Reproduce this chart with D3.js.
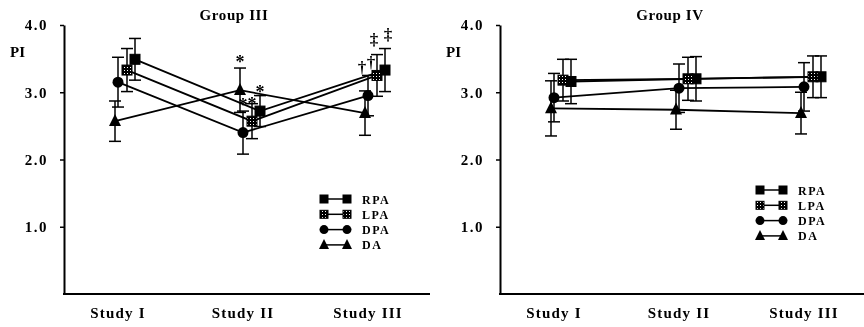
<!DOCTYPE html>
<html>
<head>
<meta charset="utf-8">
<script src="https://cdn.jsdelivr.net/npm/d3@7"></script>
<style>
  body { margin: 0; background: #fff; }
  svg { will-change: transform; }
  text { font-family: "Liberation Serif", "Times New Roman", serif; font-weight: bold; fill: #000; }
</style>
</head>
<body>
<div id="chart"></div>
<script>
const studies = ['Study I', 'Study II', 'Study III'];
const seriesNames = ['RPA', 'LPA', 'DPA', 'DA'];
const yTicks = [1.0, 2.0, 3.0, 4.0];

// Group III means and error bars
const g3RPA = [3.49, 2.72, 3.33];
const g3LPA = [3.33, 2.57, 3.25];
const g3DPA = [3.15, 2.40, 2.95];
const g3DA  = [2.57, 3.03, 2.69];
const g3RPAsd = [0.31, 0.23, 0.32];
const g3LPAsd = [0.32, 0.26, 0.31];
const g3DPAsd = [0.37, 0.32, 0.30];
const g3DAsd  = [0.30, 0.33, 0.33];

// Group IV means and error bars
const g4RPA = [3.16, 3.20, 3.23];
const g4LPA = [3.18, 3.20, 3.23];
const g4DPA = [2.92, 3.06, 3.08];
const g4DA  = [2.76, 2.74, 2.69];
const g4RPAsd = [0.33, 0.33, 0.31];
const g4LPAsd = [0.31, 0.32, 0.31];
const g4DPAsd = [0.36, 0.36, 0.36];
const g4DAsd  = [0.41, 0.29, 0.31];

// significance marks (group III): next to a series at a study, at a PI level
const g3Marks = [
    { series: 'DA',  study: 1, level: 3.50, label: '*' },
    { series: 'DPA', study: 1, level: 2.85, label: '*' },
    { series: 'LPA', study: 1, level: 2.87, label: '*' },
    { series: 'RPA', study: 1, level: 3.05, label: '*' },
    { series: 'DA',  study: 2, level: 3.28, label: '†' },
    { series: 'DPA', study: 2, level: 3.36, label: '†' },
    { series: 'LPA', study: 2, level: 3.71, label: '‡' },
    { series: 'RPA', study: 2, level: 3.77, label: '‡' }
];

const width = 864, height = 327;
const svg = d3.select('#chart').append('svg')
    .attr('width', width)
    .attr('height', height);

const defs = svg.append('defs');
const pat = defs.append('pattern')
    .attr('id', 'dots')
    .attr('width', 3).attr('height', 3)
    .attr('patternUnits', 'userSpaceOnUse');
pat.append('rect').attr('width', 3).attr('height', 3).attr('fill', '#000');
pat.append('rect').attr('x', 1).attr('y', 1).attr('width', 1).attr('height', 1).attr('fill', '#fff');

const offsets = { RPA: 17, LPA: 9, DPA: 0, DA: -3 };

function drawSymbol(sel, name, x, y, size) {
    if (name === 'RPA' || name === 'LPA') {
        sel.append('rect')
            .attr('x', x - size / 2).attr('y', y - size / 2)
            .attr('width', size).attr('height', size)
            .attr('fill', name === 'RPA' ? '#000' : 'url(#dots)')
            .attr('stroke', '#000').attr('stroke-width', 1);
    } else if (name === 'DPA') {
        sel.append('circle').attr('cx', x).attr('cy', y).attr('r', size / 2 + 0.5).attr('fill', '#000');
    } else {
        const s = size + 2;
        sel.append('path')
            .attr('d', `M${x},${y - s * 0.6}L${x + s / 2},${y + s * 0.4}L${x - s / 2},${y + s * 0.4}Z`)
            .attr('fill', '#000');
    }
}

function drawPanel(x0, title, series, legendTop, marks) {
    const g = svg.append('g');
    const y = d3.scaleLinear().domain([0, 4]).range([294, 25]);
    const x = d3.scalePoint().domain(studies).range([x0 + 54, x0 + 304]);

    // y axis
    const yAxis = g.append('g')
        .attr('transform', `translate(${x0},0)`)
        .call(d3.axisLeft(y).tickValues(yTicks).tickFormat(d3.format('.1f')).tickSize(4).tickSizeOuter(0));
    yAxis.select('.domain').attr('stroke-width', 2);
    yAxis.selectAll('.tick line').attr('stroke-width', 1.5);
    yAxis.selectAll('.tick text')
        .attr('x', -16)
        .style('font-size', '15px')
        .style('letter-spacing', '1.5px')
        .style('font-family', '"Liberation Serif", serif');

    // x axis
    g.append('line')
        .attr('x1', x0 - 1).attr('x2', x0 + 366)
        .attr('y1', y(0)).attr('y2', y(0))
        .attr('stroke', '#000').attr('stroke-width', 2);
    studies.forEach(s => {
        g.append('text')
            .attr('x', x(s)).attr('y', 318)
            .attr('text-anchor', 'middle')
            .style('font-size', '15px')
            .style('letter-spacing', '1.2px')
            .text(s);
    });

    g.append('text')
        .attr('x', x0 + 170).attr('y', 20)
        .attr('text-anchor', 'middle')
        .style('font-size', '15px')
        .style('letter-spacing', '0.6px')
        .text(title);
    g.append('text')
        .attr('x', x0 - 54).attr('y', 57)
        .style('font-size', '15px')
        .text('PI');

    const px = (name, i) => x(studies[i]) + offsets[name];

    // connecting lines
    const line = d3.line();
    series.forEach(s => {
        g.append('path')
            .attr('d', line(s.values.map((v, i) => [px(s.name, i), y(v)])))
            .attr('fill', 'none').attr('stroke', '#000').attr('stroke-width', 1.8);
    });

    // error bars
    series.forEach(s => {
        s.values.forEach((v, i) => {
            const cx = px(s.name, i);
            [v + s.sd[i], v - s.sd[i]].forEach(e => {
                g.append('line').attr('x1', cx).attr('x2', cx).attr('y1', y(v)).attr('y2', y(e))
                    .attr('stroke', '#000').attr('stroke-width', 1.5);
                g.append('line').attr('x1', cx - 6).attr('x2', cx + 6).attr('y1', y(e)).attr('y2', y(e))
                    .attr('stroke', '#000').attr('stroke-width', 1.5);
            });
        });
    });

    // symbols
    series.forEach(s => {
        s.values.forEach((v, i) => drawSymbol(g, s.name, px(s.name, i), y(v), 10));
    });

    // significance marks; daggers come in pairs, spread them apart
    const count = {};
    marks.forEach(m => {
        const star = m.label === '*';
        const key = m.study + m.label;
        const k = count[key] = (count[key] || 0) + 1;
        const shift = star ? 0 : (k === 1 ? -3 : 3);
        g.append('text')
            .attr('x', px(m.series, m.study) + shift)
            .attr('y', y(m.level) + (star ? 9 : 0))
            .attr('text-anchor', 'middle')
            .attr('fill', '#000')
            .style('font-size', star ? '18px' : '17px')
            .text(m.label);
    });

    // legend
    seriesNames.forEach((name, i) => {
        const ly = legendTop + i * 15.3;
        const lx = x0 + 259;
        g.append('line').attr('x1', lx).attr('x2', lx + 25).attr('y1', ly).attr('y2', ly)
            .attr('stroke', '#000').attr('stroke-width', 1.5);
        drawSymbol(g, name, lx + 1, ly, 8);
        drawSymbol(g, name, lx + 24, ly, 8);
        g.append('text')
            .attr('x', lx + 39).attr('y', ly + 4.5)
            .style('font-size', '12px')
            .style('letter-spacing', '1.5px')
            .text(name);
    });
}

drawPanel(64, 'Group III', [
    { name: 'RPA', values: g3RPA, sd: g3RPAsd },
    { name: 'LPA', values: g3LPA, sd: g3LPAsd },
    { name: 'DPA', values: g3DPA, sd: g3DPAsd },
    { name: 'DA', values: g3DA, sd: g3DAsd }
], 199, g3Marks);

drawPanel(500, 'Group IV', [
    { name: 'RPA', values: g4RPA, sd: g4RPAsd },
    { name: 'LPA', values: g4LPA, sd: g4LPAsd },
    { name: 'DPA', values: g4DPA, sd: g4DPAsd },
    { name: 'DA', values: g4DA, sd: g4DAsd }
], 190, []);
</script>
</body>
</html>
